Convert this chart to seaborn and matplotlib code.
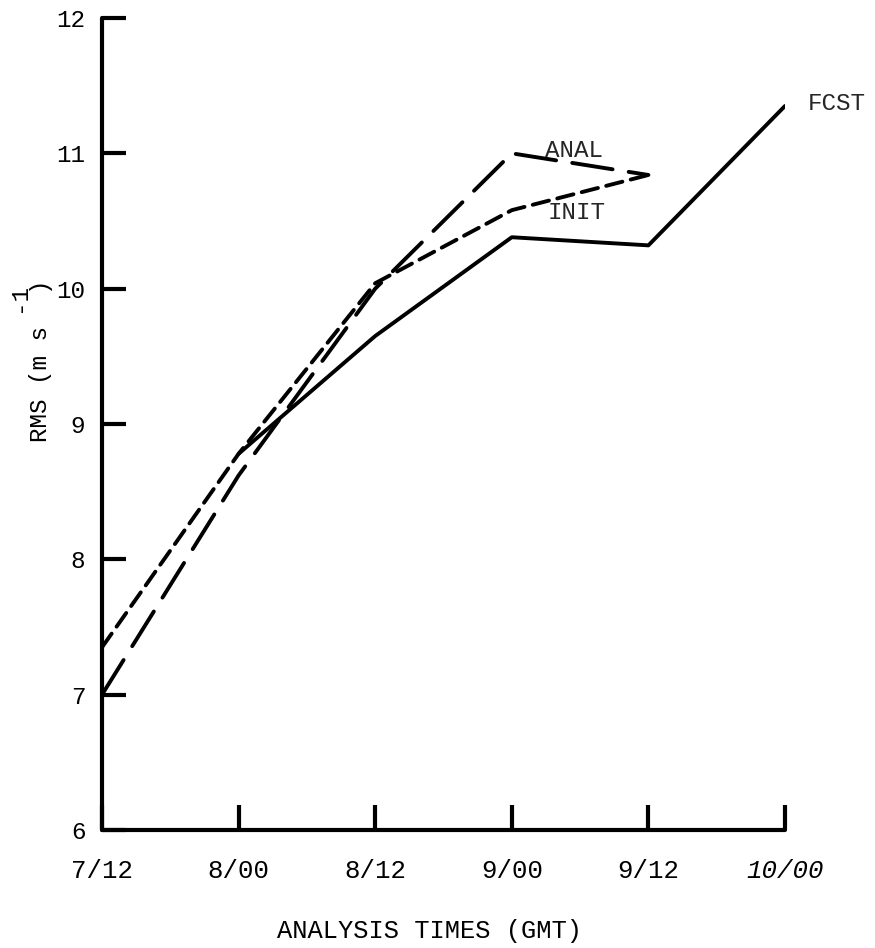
import matplotlib
matplotlib.use("Agg")
import matplotlib.pyplot as plt
import matplotlib.transforms as mtransforms
import seaborn as sns
import pandas as pd

# ---- data ----
times = ["7/12", "8/00", "8/12", "9/00", "9/12", "10/00"]
fcst_idx = [1, 2, 3, 4, 5]
fcst_vals = [8.78, 9.65, 10.38, 10.32, 11.35]
anal_idx = [0, 1, 2, 3, 4]
anal_vals = [7.00, 8.62, 10.00, 11.00, 10.84]
init_idx = [0, 1, 2, 3, 4]
init_vals = [7.35, 8.78, 10.04, 10.58, 10.84]
yticks = [6, 7, 8, 9, 10, 11, 12]

df = pd.concat([
    pd.DataFrame({"t": fcst_idx, "rms": fcst_vals, "series": "FCST"}),
    pd.DataFrame({"t": anal_idx, "rms": anal_vals, "series": "ANAL"}),
    pd.DataFrame({"t": init_idx, "rms": init_vals, "series": "INIT"}),
], ignore_index=True)

sns.set_theme(style="ticks")
plt.rcParams["font.family"] = ["Liberation Mono", "DejaVu Sans"]

W, H = 875, 948
fig = plt.figure(figsize=(W / 100, H / 100), dpi=100)
ax = fig.add_axes([102 / W, 1 - 830 / H, 683 / W, 812 / H])

sns.lineplot(data=df, x="t", y="rms", style="series",
             dashes={"FCST": "", "ANAL": (10.5, 4.2), "INIT": (4.3, 2.2)},
             color="black", linewidth=2.8, legend=False, ax=ax,
             estimator=None, sort=True,
             solid_capstyle="round", dash_capstyle="round",
             solid_joinstyle="round", dash_joinstyle="round")

ax.set_xlim(0, len(times) - 1)
ax.set_ylim(yticks[0], yticks[-1])
ax.set_xticks(range(len(times)))
ax.set_xticklabels(times, fontsize=18.5)
ax.get_xticklabels()[-1].set_fontstyle("italic")
ax.set_yticks(yticks)
ax.set_yticklabels([str(v) for v in yticks], fontsize=17.5)

# first x tick label sits slightly left of its tick in the original
lbl0 = ax.get_xticklabels()[0]
lbl0.set_transform(lbl0.get_transform() +
                   mtransforms.ScaledTranslation(-11 / 100, 0, fig.dpi_scale_trans))

for s in ["top", "right"]:
    ax.spines[s].set_visible(False)
for s in ["left", "bottom"]:
    ax.spines[s].set_linewidth(3.0)
    ax.spines[s].set_color("black")
    ax.spines[s].set_capstyle("round")

ax.tick_params(axis="x", direction="in", length=18, width=3.0, pad=21, colors="black")
ax.tick_params(axis="y", direction="in", length=17, width=3.0, pad=12, colors="black")

ax.set_xlabel("ANALYSIS TIMES (GMT)", fontsize=18.3, color="black")
ax.xaxis.set_label_coords(0.48, -0.109)
ax.set_ylabel("")


def px(x, y):
    return x / W, 1 - y / H


# y-axis label pieces (monospace, rotated)
fs_y = 17.5
fig.text(*px(47, 442), "RMS (m s", rotation=90, rotation_mode="anchor",
         ha="left", va="baseline", fontsize=fs_y, color="black")
fig.text(*px(25, 312), "-1", rotation=90, rotation_mode="anchor",
         ha="left", va="baseline", fontsize=fs_y, color="black")
fig.text(*px(44, 291), ")", rotation=90, rotation_mode="anchor",
         ha="left", va="baseline", fontsize=fs_y, color="black")

ax.text(5.17, 11.37, "FCST", fontsize=17.5, ha="left", va="center", clip_on=False)
ax.text(3.24, 11.02, "ANAL", fontsize=17.5, ha="left", va="center")
ax.text(3.26, 10.56, "INIT", fontsize=17.5, ha="left", va="center")

ax.set_facecolor("white")
fig.patch.set_facecolor("white")
fig.savefig("out.png", dpi=100)
